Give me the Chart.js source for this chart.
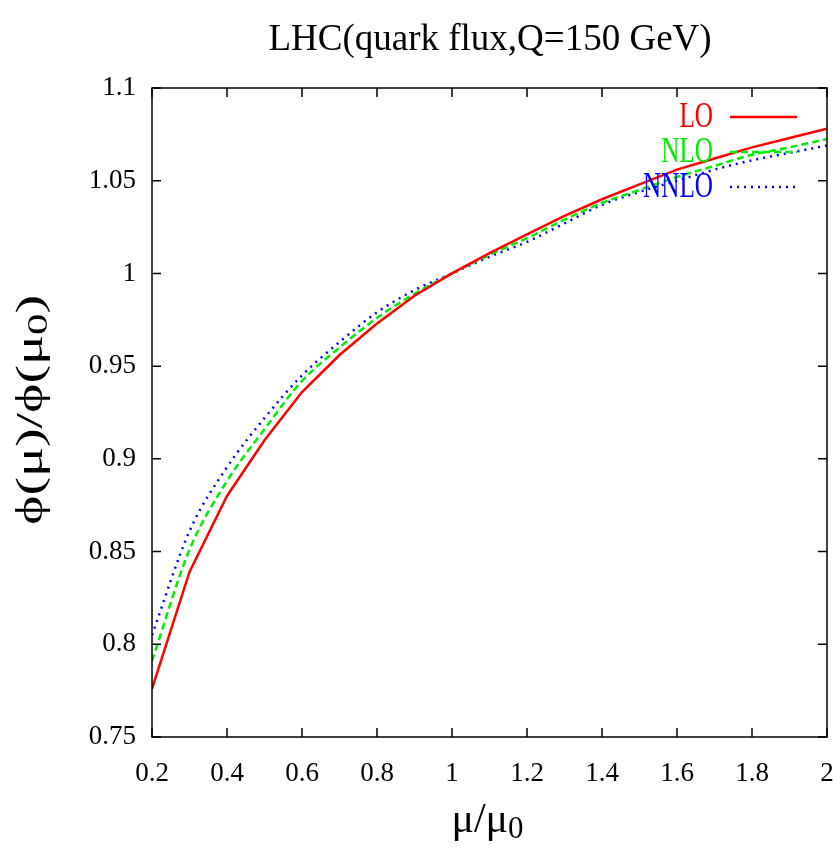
<!DOCTYPE html>
<html>
<head>
<meta charset="utf-8">
<script src="https://cdn.jsdelivr.net/npm/chart.js@4.4.1/dist/chart.umd.min.js"></script>
<style>
  html, body { margin: 0; padding: 0; background: #fff; }
  #wrap { width: 840px; height: 849px; }
</style>
</head>
<body>
<div id="wrap"><canvas id="fluxChart" width="840" height="849"></canvas></div>
<script>
// mu / mu0 values
const muRatio = [0.2, 0.3, 0.4, 0.5, 0.6, 0.7, 0.8, 0.9, 1.0, 1.1, 1.2, 1.3, 1.4, 1.5, 1.6, 1.7, 1.8, 1.9, 2.0];
const loFlux = [0.776, 0.839, 0.880, 0.910, 0.936, 0.956, 0.973, 0.988, 1.000, 1.011, 1.021, 1.031, 1.040, 1.048, 1.056, 1.062, 1.068, 1.073, 1.078];
const nloFlux = [0.791, 0.851, 0.888, 0.916, 0.942, 0.960, 0.976, 0.989, 1.000, 1.010, 1.019, 1.029, 1.038, 1.045, 1.052, 1.058, 1.064, 1.068, 1.0725];
const nnloFlux = [0.805, 0.861, 0.8955, 0.922, 0.945, 0.963, 0.979, 0.991, 1.000, 1.009, 1.017, 1.027, 1.037, 1.044, 1.050, 1.056, 1.061, 1.065, 1.069];
const seriesNames = ['LO', 'NLO', 'NNLO'];
const xTicks = [0.2, 0.4, 0.6, 0.8, 1, 1.2, 1.4, 1.6, 1.8, 2];
const yTicks = [0.75, 0.8, 0.85, 0.9, 0.95, 1, 1.05, 1.1];

const chartTitle = 'LHC(quark flux,Q=150 GeV)';
const serif = '"Liberation Serif", "Times New Roman", serif';

function toPoints(ys) {
    return muRatio.map((x, i) => ({ x: x, y: ys[i] }));
}

// gnuplot-like frame, inward ticks, title, axis titles and legend
const decorations = {
    id: 'decorations',
    afterDatasetsDraw(chart) {
        const ctx = chart.ctx;
        const area = chart.chartArea;
        const xs = chart.scales.x;
        const ys = chart.scales.y;
        const tick = 9;

        ctx.save();
        ctx.strokeStyle = '#000';
        ctx.lineWidth = 1.5;
        ctx.strokeRect(area.left, area.top, area.right - area.left, area.bottom - area.top);
        ctx.beginPath();
        xTicks.forEach(v => {
            const px = xs.getPixelForValue(v);
            ctx.moveTo(px, area.bottom); ctx.lineTo(px, area.bottom - tick);
            ctx.moveTo(px, area.top); ctx.lineTo(px, area.top + tick);
        });
        yTicks.forEach(v => {
            const py = ys.getPixelForValue(v);
            ctx.moveTo(area.left, py); ctx.lineTo(area.left + tick, py);
            ctx.moveTo(area.right, py); ctx.lineTo(area.right - tick, py);
        });
        ctx.stroke();

        // title
        ctx.fillStyle = '#000';
        ctx.textAlign = 'center';
        ctx.textBaseline = 'alphabetic';
        ctx.font = '37px ' + serif;
        ctx.fillText(chartTitle, 490, 50);

        // x axis title  mu/mu0
        ctx.font = '42px ' + serif;
        const main = 'μ/μ';
        const wMain = ctx.measureText(main).width;
        ctx.font = '31px ' + serif;
        const wSub = ctx.measureText('0').width;
        let x0 = (area.left + area.right) / 2 - 2 - (wMain + wSub) / 2;
        ctx.textAlign = 'left';
        ctx.font = '42px ' + serif;
        ctx.fillText(main, x0, 832);
        ctx.font = '31px ' + serif;
        ctx.fillText('0', x0 + wMain, 838);

        // y axis title  phi(mu)/phi(mu0), rotated
        ctx.save();
        ctx.translate(42, 410);
        ctx.rotate(-Math.PI / 2);
        const yFont = '38px ' + serif;
        const ySubFont = '29px ' + serif;
        const parts = [['ϕ(μ)/ϕ(μ', yFont, 0], ['0', ySubFont, 5], [')', yFont, 0]];
        let total = 0;
        parts.forEach(p => { ctx.font = p[1]; total += ctx.measureText(p[0]).width; });
        const stretch = 230 / total;
        ctx.scale(stretch, 1);
        let cx = -total / 2;
        parts.forEach(p => {
            ctx.font = p[1];
            ctx.fillText(p[0], cx, p[2]);
            cx += ctx.measureText(p[0]).width;
        });
        ctx.restore();

        // legend: text right aligned, then line sample
        const rowY = [117, 152, 187];
        chart.data.datasets.forEach((ds, i) => {
            ctx.save();
            ctx.font = '35px ' + serif;
            ctx.fillStyle = ds.borderColor;
            ctx.textAlign = 'right';
            ctx.textBaseline = 'middle';
            ctx.translate(713, rowY[i] + 1);
            ctx.scale(0.72, 1);
            ctx.fillText(ds.label, 0, 0);
            ctx.restore();

            ctx.save();
            ctx.strokeStyle = ds.borderColor;
            ctx.lineWidth = ds.borderWidth;
            ctx.setLineDash(ds.borderDash || []);
            ctx.beginPath();
            ctx.moveTo(730, rowY[i]);
            ctx.lineTo(797, rowY[i]);
            ctx.stroke();
            ctx.restore();
        });
        ctx.restore();
    }
};

const ctx = document.getElementById('fluxChart').getContext('2d');
new Chart(ctx, {
    type: 'line',
    data: {
        datasets: [
            { label: seriesNames[0], data: toPoints(loFlux), borderColor: '#ff0000', borderWidth: 2.5, pointRadius: 0, tension: 0, fill: false },
            { label: seriesNames[1], data: toPoints(nloFlux), borderColor: '#00ee00', borderWidth: 2.5, borderDash: [7, 4], pointRadius: 0, cubicInterpolationMode: 'monotone', fill: false },
            { label: seriesNames[2], data: toPoints(nnloFlux), borderColor: '#0000ff', borderWidth: 2.5, borderDash: [2, 5], pointRadius: 0, cubicInterpolationMode: 'monotone', fill: false }
        ]
    },
    options: {
        responsive: false,
        animation: false,
        layout: { padding: { top: 88, right: 13, left: 0, bottom: 0 } },
        plugins: {
            legend: { display: false },
            title: { display: false },
            tooltip: { enabled: false }
        },
        scales: {
            x: {
                type: 'linear',
                min: 0.2,
                max: 2,
                afterFit: scale => { scale.height = 112; scale.paddingLeft = 0; scale.paddingRight = 0; },
                afterBuildTicks: scale => { scale.ticks = xTicks.map(v => ({ value: v })); },
                grid: { display: false, drawTicks: false },
                border: { display: false },
                ticks: {
                    color: '#000',
                    padding: 21,
                    maxRotation: 0,
                    font: { family: serif, size: 27 },
                    callback: v => String(Math.round(v * 10) / 10)
                }
            },
            y: {
                type: 'linear',
                min: 0.75,
                max: 1.1,
                afterFit: scale => { scale.width = 152; scale.paddingTop = 0; scale.paddingBottom = 0; },
                afterBuildTicks: scale => { scale.ticks = yTicks.map(v => ({ value: v })); },
                grid: { display: false, drawTicks: false },
                border: { display: false },
                ticks: {
                    color: '#000',
                    padding: 16,
                    font: { family: serif, size: 27 },
                    callback: v => String(Math.round(v * 100) / 100)
                }
            }
        }
    },
    plugins: [decorations]
});
</script>
</body>
</html>
